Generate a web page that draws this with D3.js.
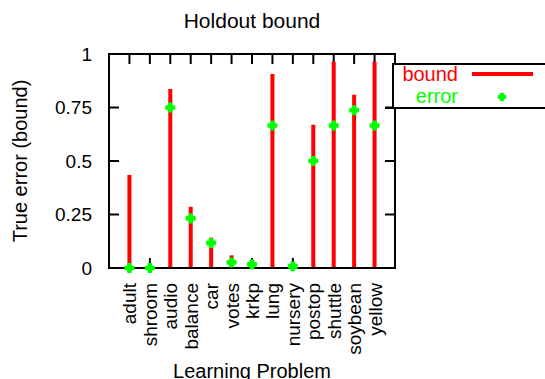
<!DOCTYPE html>
<html lang="en">
<head>
<meta charset="utf-8">
<title>Holdout bound</title>
<script src="https://cdn.jsdelivr.net/npm/d3@7"></script>
<style>
  body { margin: 0; background: #fff; }
  text { font-family: "Liberation Sans", Arial, sans-serif; }
</style>
</head>
<body>
<script>
// data
var problems = ["adult","shroom","audio","balance","car","votes","krkp","lung","nursery","postop","shuttle","soybean","yellow"];
var bound = [0.435, 0.005, 0.837, 0.286, 0.142, 0.059, 0.02, 0.907, 0.012, 0.669, 0.964, 0.81, 0.964];
var error = [0.0, 0.0, 0.75, 0.232, 0.117, 0.026, 0.017, 0.666, 0.008, 0.5, 0.666, 0.737, 0.666];
var yTicks = [0, 0.25, 0.5, 0.75, 1];
var yTickLabels = ["0", "0.25", "0.5", "0.75", "1"];

var W = 545, H = 379;
var pL = 109, pR = 395, pT = 54, pB = 268;

var svg = d3.select("body").append("svg")
    .attr("width", W).attr("height", H);

var x = d3.scaleLinear().domain([0, problems.length + 1]).range([pL, pR]);
var y = d3.scaleLinear().domain([0, 1]).range([pB, pT]);

// title
svg.append("text")
    .attr("x", 252).attr("y", 28)
    .attr("text-anchor", "middle")
    .style("font-size", "21px")
    .text("Holdout bound");

// ticks (inward, on all four sides)
var tickLen = 10;
var tk = svg.append("g").attr("stroke", "#000").attr("stroke-width", 2);
problems.forEach(function(p, i){
    tk.append("line").attr("x1", x(i+1)).attr("x2", x(i+1)).attr("y1", pT).attr("y2", pT + tickLen);
    tk.append("line").attr("x1", x(i+1)).attr("x2", x(i+1)).attr("y1", pB).attr("y2", pB - tickLen);
});
yTicks.forEach(function(t){
    tk.append("line").attr("x1", pL).attr("x2", pL + tickLen).attr("y1", y(t)).attr("y2", y(t));
    tk.append("line").attr("x1", pR).attr("x2", pR - tickLen).attr("y1", y(t)).attr("y2", y(t));
});

// y tick labels
svg.selectAll(".ylab")
    .data(yTicks)
    .enter().append("text")
    .attr("class", "ylab")
    .attr("x", pL - 17)
    .attr("y", function(d){ return y(d); })
    .attr("dy", "0.36em")
    .attr("text-anchor", "end")
    .style("font-size", "19px")
    .text(function(d, i){ return yTickLabels[i]; });

// x tick labels, rotated
svg.selectAll(".xlab")
    .data(problems)
    .enter().append("text")
    .attr("class", "xlab")
    .attr("transform", function(d, i){ return "translate(" + (x(i+1) + 7) + "," + (pB + 15) + ") rotate(-90)"; })
    .attr("text-anchor", "end")
    .style("font-size", "19px")
    .text(function(d){ return d; });

// axis titles
svg.append("text")
    .attr("transform", "translate(27," + ((pT + pB) / 2) + ") rotate(-90)")
    .attr("text-anchor", "middle")
    .style("font-size", "20px")
    .text("True error (bound)");

svg.append("text")
    .attr("x", 252).attr("y", 378)
    .attr("text-anchor", "middle")
    .style("font-size", "20px")
    .text("Learning Problem");

// bound impulses
svg.selectAll(".bound")
    .data(bound)
    .enter().append("line")
    .attr("class", "bound")
    .attr("x1", function(d, i){ return x(i+1); })
    .attr("x2", function(d, i){ return x(i+1); })
    .attr("y1", y(0))
    .attr("y2", function(d){ return y(d); })
    .attr("stroke", "#ff0000")
    .attr("stroke-width", 4);

// frame
svg.append("rect")
    .attr("x", pL).attr("y", pT)
    .attr("width", pR - pL).attr("height", pB - pT)
    .attr("fill", "none").attr("stroke", "#000").attr("stroke-width", 2);

// error points
var cross = d3.symbol().type(d3.symbolCross).size(36);
svg.selectAll(".err")
    .data(error)
    .enter().append("path")
    .attr("class", "err")
    .attr("d", cross)
    .attr("transform", function(d, i){ return "translate(" + x(i+1) + "," + y(d) + ")"; })
    .attr("fill", "#00ff00")
    .attr("stroke", "#00ff00")
    .attr("stroke-width", 2)
    .attr("stroke-linejoin", "round");

// legend
var lg = svg.append("g");
lg.append("rect")
    .attr("x", 393).attr("y", 64)
    .attr("width", 170).attr("height", 44)
    .attr("fill", "#fff").attr("stroke", "#000").attr("stroke-width", 2);
lg.append("line")
    .attr("x1", 385).attr("x2", 545).attr("y1", 108).attr("y2", 108)
    .attr("stroke", "#000").attr("stroke-width", 2);
lg.append("text")
    .attr("x", 458).attr("y", 81)
    .attr("text-anchor", "end")
    .attr("fill", "#ff0000")
    .style("font-size", "20px")
    .text("bound");
lg.append("line")
    .attr("x1", 472).attr("x2", 533).attr("y1", 74).attr("y2", 74)
    .attr("stroke", "#ff0000").attr("stroke-width", 4);
lg.append("text")
    .attr("x", 458).attr("y", 103)
    .attr("text-anchor", "end")
    .attr("fill", "#00ff00")
    .style("font-size", "20px")
    .text("error");
lg.append("path")
    .attr("d", d3.symbol().type(d3.symbolCross).size(24))
    .attr("transform", "translate(502,97)")
    .attr("fill", "#00ff00")
    .attr("stroke", "#00ff00")
    .attr("stroke-width", 2)
    .attr("stroke-linejoin", "round");
</script>
</body>
</html>
